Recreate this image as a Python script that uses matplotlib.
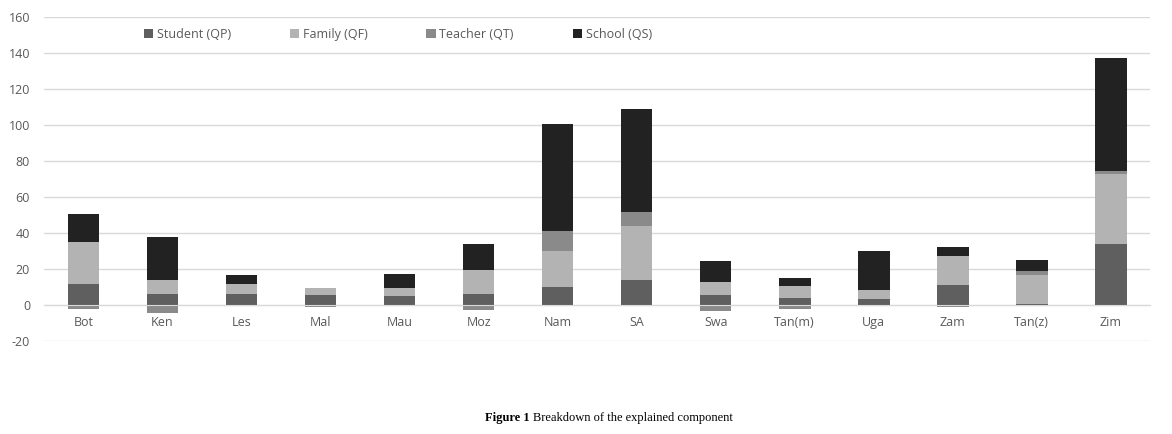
import matplotlib.pyplot as plt
import numpy as np

plt.rcParams['font.family'] = ['Open Sans', 'DejaVu Sans']
plt.rcParams['axes.unicode_minus'] = False

countries = ['Bot', 'Ken', 'Les', 'Mal', 'Mau', 'Moz', 'Nam', 'SA',
             'Swa', 'Tan(m)', 'Uga', 'Zam', 'Tan(z)', 'Zim']
student = [11.8, 6.1, 6.1, 5.6, 5.2, 6.1, 10.0, 13.9, 5.7, 3.7, 3.3, 11.1, 0.5, 34.1]
family = [23.2, 8.0, 5.4, 3.7, 4.1, 13.2, 20.0, 29.8, 7.4, 6.7, 5.0, 15.9, 16.2, 38.7]
teacher = [-2.4, -4.6, -0.3, -1.3, -0.3, -2.8, 11.1, 8.0, -3.3, -2.0, -0.5, -1.0, 2.4, 1.7]
school = [15.5, 23.7, 5.0, 0.3, 7.7, 14.4, 59.4, 57.2, 11.3, 4.4, 21.5, 5.2, 5.9, 62.6]

series = [('Student (QP)', student, '#5f5f5f'),
          ('Family (QF)', family, '#b3b3b3'),
          ('Teacher (QT)', teacher, '#8a8a8a'),
          ('School (QS)', school, '#222222')]

x = np.arange(len(countries))
width = 0.4

fig = plt.figure(figsize=(11.72, 4.34), dpi=100)
ax = fig.add_axes([0.0375, 0.214, 0.944, 0.747])

# excel-style stacking: positives go up, negatives go down
pos = np.zeros(len(x))
neg = np.zeros(len(x))
for name, vals, color in series:
    vals = np.array(vals)
    base = np.where(vals >= 0, pos, neg)
    ax.bar(x, vals, width, bottom=base, color=color, label=name, zorder=3)
    pos = pos + np.clip(vals, 0, None)
    neg = neg + np.clip(vals, None, 0)

ax.set_ylim(-20, 160)
ax.set_xlim(-0.5, len(x) - 0.5)
ax.set_yticks(np.arange(-20, 161, 20))
ax.yaxis.grid(True, color='#d9d9d9', linewidth=1, zorder=0)
ax.set_axisbelow(True)

for s in ['top', 'right', 'left']:
    ax.spines[s].set_visible(False)
ax.spines['bottom'].set_position(('data', 0))
ax.spines['bottom'].set_color('#d9d9d9')
ax.spines['bottom'].set_zorder(4)

ax.set_xticks(x)
ax.set_xticklabels(countries)
ax.tick_params(axis='both', length=0, labelsize=9, labelcolor='#595959')
ax.tick_params(axis='x', pad=8)
ax.tick_params(axis='y', pad=10)

ax.legend(loc='upper left', bbox_to_anchor=(0.08, 1.0), ncol=4, frameon=False,
          fontsize=9, labelcolor='#595959', handlelength=0.75, handleheight=0.75,
          handletextpad=0.3, columnspacing=4.7)

# caption: bold "Figure 1" then the plain part
t1 = fig.text(0.414, 0.022, 'Figure 1', ha='left', va='bottom', fontsize=9,
              family='Liberation Serif', weight='bold')
fig.canvas.draw()
bb = t1.get_window_extent()
fig.text(bb.x1 / fig.bbox.width + 0.003, 0.022, 'Breakdown of the explained component',
         ha='left', va='bottom', fontsize=9, family='Liberation Serif')

fig.savefig('out.png', dpi=100)
